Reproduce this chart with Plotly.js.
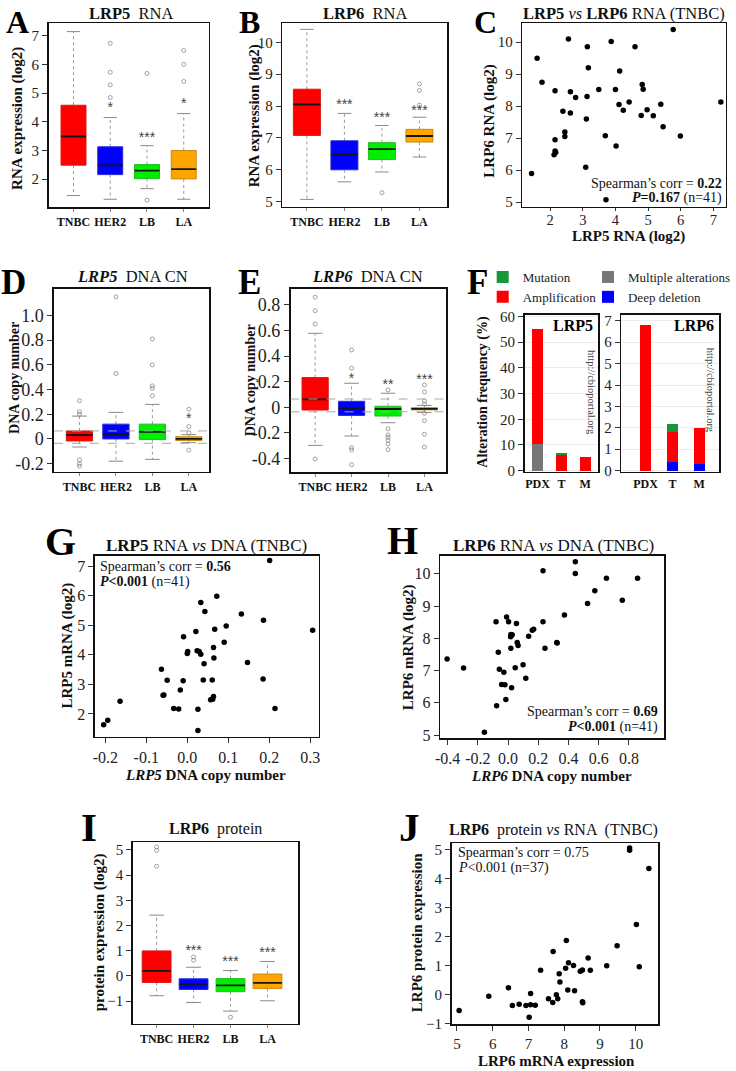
<!DOCTYPE html>
<html><head><meta charset="utf-8">
<script src="https://cdn.plot.ly/plotly-3.0.1.min.js"></script>
<style>html,body{margin:0;padding:0;background:#fff}#chart{width:736px;height:1071px}</style>
</head><body><div id="chart"></div>
<script>
// ---------------- DATA ----------------
const subtypes = ['TNBC', 'HER2', 'LB', 'LA'];

// A: LRP5 RNA (log2) box statistics by subtype
const lrp5RnaQ1  = [2.49, 2.16, 2.02, 2.01];
const lrp5RnaMed = [3.49, 2.48, 2.30, 2.35];
const lrp5RnaQ3  = [4.58, 3.13, 2.51, 3.00];
const lrp5RnaLo  = [1.43, 1.30, 1.67, 1.30];
const lrp5RnaHi  = [7.15, 4.15, 3.17, 4.29];
const lrp5RnaOut = [[], [6.74, 5.73, 5.29, 4.85], [5.69, 1.27], [6.49, 6.01, 5.41]];
const lrp5RnaSig  = ['', '*', '***', '*'];
const lrp5RnaSigY = [null, 4.45, 3.42, 4.6];

// B: LRP6 RNA (log2)
const lrp6RnaQ1  = [7.08, 6.00, 6.32, 6.87];
const lrp6RnaMed = [8.05, 6.48, 6.65, 7.06];
const lrp6RnaQ3  = [8.53, 6.91, 6.85, 7.27];
const lrp6RnaLo  = [5.07, 5.62, 5.93, 6.40];
const lrp6RnaHi  = [10.41, 7.77, 7.39, 7.65];
const lrp6RnaOut = [[], [], [5.28], [8.70, 8.49, 8.03]];
const lrp6RnaSig  = ['', '***', '***', '***'];
const lrp6RnaSigY = [null, 8.02, 7.62, 7.82];

// C: LRP5 vs LRP6 RNA in TNBC
const cLrp5 = [1.43,1.60,1.75,2.15,2.56,2.15,2.15,2.12,2.17,2.39,2.45,2.45,2.62,2.62,2.78,3.14,3.17,3.13,3.11,3.09,3.49,3.69,3.71,3.87,4.00,4.02,4.13,4.11,4.24,4.42,4.60,4.79,4.82,4.85,4.97,5.16,5.39,5.46,5.77,5.99,7.23];
const cLrp6 = [5.90,9.50,8.75,8.48,10.10,6.95,6.60,6.48,6.55,7.84,7.19,7.05,8.45,7.79,8.27,9.86,9.20,8.30,7.60,6.09,8.52,7.08,5.08,10.02,8.52,6.76,9.10,8.05,7.87,8.13,9.86,7.71,8.68,8.53,7.89,7.70,8.06,7.36,10.40,7.07,8.13];

// D: LRP5 DNA copy number
const lrp5CnQ1  = [-0.016, 0.000, -0.005, -0.012];
const lrp5CnMed = [0.032, 0.040, 0.057, 0.000];
const lrp5CnQ3  = [0.065, 0.120, 0.120, 0.018];
const lrp5CnLo  = [-0.065, -0.180, -0.165, -0.030];
const lrp5CnHi  = [0.185, 0.215, 0.280, 0.035];
const lrp5CnOut = [[0.31, 0.22, 0.20, -0.17, -0.20, -0.22], [1.15, 0.53], [0.81, 0.60, 0.43, 0.41, 0.35], [0.24, 0.10, 0.05, -0.09]];
const lrp5CnSig  = ['', '', '', '*'];
const lrp5CnSigY = [null, null, null, 0.16];

// E: LRP6 DNA copy number
const lrp6CnQ1  = [-0.021, -0.063, -0.068, -0.020];
const lrp6CnMed = [0.062, -0.008, -0.013, -0.012];
const lrp6CnQ3  = [0.232, 0.047, 0.008, -0.003];
const lrp6CnLo  = [-0.297, -0.224, -0.120, -0.040];
const lrp6CnHi  = [0.578, 0.188, 0.110, 0.015];
const lrp6CnOut = [[0.86, 0.755, 0.65, -0.404], [0.448, 0.305, -0.315, -0.333, -0.448], [0.135, -0.167, -0.216, -0.234, -0.258, -0.286, -0.33], [0.175, 0.12, 0.05, 0.026, -0.047, -0.104, -0.21, -0.31]];
const lrp6CnSig  = ['', '*', '**', '***'];
const lrp6CnSigY = [null, 0.22, 0.17, 0.21];

const cnThresh = [0.065, -0.035];

// F: alteration frequency (%)
const altSets = ['PDX', 'T', 'M'];
const lrp5Mult = [10.3, 0, 0];
const lrp5Del  = [0, 0, 0];
const lrp5Amp  = [44.7, 6.1, 5.4];
const lrp5Mut  = [0, 0.6, 0];
const lrp6Mult = [0, 0, 0];
const lrp6Del  = [0, 0.4, 0.3];
const lrp6Amp  = [6.8, 1.4, 1.7];
const lrp6Mut  = [0, 0.4, 0];

// G: LRP5 RNA vs DNA (TNBC)
const gCn   = [-0.204,-0.194,-0.164,-0.063,-0.057,-0.049,-0.033,-0.021,-0.017,-0.010,-0.009,0.001,0.000,0.021,0.026,0.026,0.029,0.033,0.033,0.039,0.041,0.043,0.057,0.061,0.062,0.064,0.065,0.064,0.067,0.072,0.090,0.095,0.132,0.147,0.185,0.186,0.214,0.306,0.201,-0.059,0.024];
const gRna  = [1.63,1.79,2.43,3.51,2.64,3.14,2.18,2.17,2.81,3.12,4.61,4.11,4.04,4.79,2.16,1.44,4.11,4.02,5.77,3.15,3.70,5.46,2.48,3.15,2.50,2.59,3.89,4.25,4.86,5.98,4.42,4.97,5.38,3.74,3.18,5.17,2.18,4.83,7.19,2.63,4.14];

// H: LRP6 RNA vs DNA (TNBC)
const hCn  = [-0.404,-0.295,-0.157,-0.080,-0.076,-0.065,-0.058,-0.043,-0.028,-0.021,-0.015,-0.010,0.003,0.016,0.018,0.027,0.018,0.023,0.047,0.055,0.060,0.066,0.099,0.117,0.136,0.160,0.169,0.231,0.244,0.325,0.373,0.526,0.574,0.756,0.231,0.445,0.445,0.651,0.857,0.322,0.020];
const hRna = [7.36,7.08,5.09,8.51,5.91,7.57,7.04,6.57,6.95,6.56,6.10,8.66,8.51,8.05,8.12,8.11,7.69,6.47,7.09,8.46,7.87,7.78,7.18,6.76,8.06,8.25,8.28,8.51,7.69,7.85,8.72,9.08,9.47,9.18,10.09,10.37,10.01,9.86,9.86,7.87,8.08];

// I: LRP6 protein (log2)
const lrp6ProtQ1  = [-0.26, -0.54, -0.63, -0.50];
const lrp6ProtMed = [0.20, -0.33, -0.38, -0.28];
const lrp6ProtQ3  = [0.99, -0.12, -0.11, 0.07];
const lrp6ProtLo  = [-0.79, -1.06, -1.40, -0.99];
const lrp6ProtHi  = [2.41, 0.34, 0.21, 0.57];
const lrp6ProtOut = [[5.12, 4.98, 4.35], [0.75, 0.62], [-1.64], []];
const lrp6ProtSig  = ['', '***', '***', '***'];
const lrp6ProtSigY = [null, 0.98, 0.52, 0.87];

// J: LRP6 protein vs RNA (TNBC)
const jRna  = [5.06,5.89,6.44,6.55,6.74,6.93,7.02,7.06,7.06,7.19,7.34,7.56,7.68,7.69,7.78,7.82,7.86,7.88,8.04,8.06,8.10,8.12,8.26,8.29,8.45,8.51,8.51,8.52,8.67,8.73,9.19,9.48,10.02,10.10,10.37,9.83,9.83];
const jProt = [-0.55,-0.06,0.23,-0.38,-0.34,-0.38,-0.79,0.03,-0.36,-0.37,0.83,-0.15,-0.28,1.48,-0.01,-0.15,0.71,0.43,0.90,1.86,0.15,1.09,1.00,0.13,0.80,0.84,-0.25,-0.29,1.26,0.83,0.99,1.68,2.41,0.95,4.34,5.05,4.97];

// ---------------- HELPERS ----------------
const FONT = "'Liberation Serif', 'Times New Roman', serif";
const W = 736, H = 1071;
const fx = p => p / W;
const fy = p => 1 - p / H;
const xdom = (a, b) => [a / W, b / W];
const ydom = (t, b) => [1 - b / H, 1 - t / H];

const boxFill = ['#ff0000', '#0000ff', '#00ee00', '#ffa500'];
const boxEdge = ['#d81818', '#2a2ad0', '#22bb22', '#c98a10'];

const traces = [];
const shapes = [];
const annotations = [];

function ax(domain, range, anchor, o) {
  return Object.assign({
    domain: domain, range: range, anchor: anchor, showline: true, mirror: true,
    linecolor: '#111', linewidth: 1.6, ticks: 'outside', ticklen: 5, tickwidth: 1,
    tickcolor: '#333', showgrid: false, zeroline: false, fixedrange: true,
    tickfont: {family: FONT, size: 15, color: '#222'}
  }, o || {});
}
function catAxis(domain, range, anchor, size) {
  return ax(domain, range, anchor, {
    tickvals: subtypes.map((s, i) => i), ticktext: subtypes, ticklen: 3, tickcolor: '#888',
    tickfont: {family: FONT, size: size || 12, color: '#111', weight: 'bold'}
  });
}

function boxPanel(xa, ya, q1, med, q3, lo, hi, out, sig, sigY, hw, cw) {
  const base = {type: 'scatter', xaxis: xa, yaxis: ya, hoverinfo: 'skip', showlegend: false};
  const wx = [], wy = [], cx = [], cy = [], mx = [], my = [], ox = [], oy = [];
  subtypes.forEach((s, i) => {
    wx.push(i, i, null, i, i, null); wy.push(q3[i], hi[i], null, q1[i], lo[i], null);
    cx.push(i - cw, i + cw, null, i - cw, i + cw, null); cy.push(hi[i], hi[i], null, lo[i], lo[i], null);
    mx.push(i - hw, i + hw, null); my.push(med[i], med[i], null);
    out[i].forEach(v => { ox.push(i); oy.push(v); });
  });
  traces.push(Object.assign({}, base, {mode: 'lines', x: wx, y: wy, line: {color: '#9a9a9a', width: 1, dash: 'dot'}}));
  traces.push(Object.assign({}, base, {mode: 'lines', x: cx, y: cy, line: {color: '#8a8a8a', width: 1}}));
  subtypes.forEach((s, i) => {
    traces.push(Object.assign({}, base, {
      mode: 'lines', x: [i - hw, i + hw, i + hw, i - hw, i - hw], y: [q1[i], q1[i], q3[i], q3[i], q1[i]],
      fill: 'toself', fillcolor: boxFill[i], line: {color: boxEdge[i], width: 1}
    }));
  });
  traces.push(Object.assign({}, base, {mode: 'lines', x: mx, y: my, line: {color: '#151515', width: 1.8}}));
  traces.push(Object.assign({}, base, {mode: 'markers', x: ox, y: oy,
    marker: {symbol: 'circle-open', size: 4, color: '#8a8a8a', line: {width: 0.8}}}));
  const sx = [], sy = [], st = [];
  sig.forEach((t, i) => { if (t) { sx.push(i); sy.push(sigY[i]); st.push(t); } });
  traces.push(Object.assign({}, base, {mode: 'text', x: sx, y: sy, text: st, textposition: 'middle center',
    textfont: {family: 'Liberation Sans, Arial, sans-serif', size: 14, color: '#444'}}));
}

function scatterPanel(xa, ya, xs, ys) {
  traces.push({type: 'scatter', mode: 'markers', xaxis: xa, yaxis: ya, x: xs, y: ys,
    marker: {color: '#000', size: 5.5}, hoverinfo: 'skip', showlegend: false});
}

function barSet(xa, ya, mult, del, amp, mut, width, showLeg) {
  const xs = altSets.map((s, i) => i);
  const defs = [
    ['Multiple alterations', mult, '#777777', 'legend2', 1],
    ['Deep deletion', del, '#0000ff', 'legend2', 2],
    ['Amplification', amp, '#ff0000', 'legend', 2],
    ['Mutation', mut, '#17963a', 'legend', 1]
  ];
  defs.forEach(d => traces.push({type: 'bar', xaxis: xa, yaxis: ya, x: xs, y: d[1], name: d[0],
    marker: {color: d[2], line: {width: 0}}, width: width, legend: d[3], legendrank: d[4],
    showlegend: showLeg, hoverinfo: 'skip'}));
}

function note(text, x, y, o) {
  return Object.assign({text: text, x: fx(x), y: fy(y), xref: 'paper', yref: 'paper', showarrow: false,
    xanchor: 'center', yanchor: 'middle', font: {family: FONT, size: 15, color: '#111'}}, o || {});
}
function letter(t, x, y, size) {
  annotations.push(note('<b>' + t + '</b>', x, y, {font: {family: FONT, size: size, color: '#000'}}));
}
function ylab(t, x, y, size) {
  annotations.push(note(t, x, y, {textangle: -90, font: {family: FONT, size: size || 15, color: '#111'}}));
}

// ---------------- PANELS ----------------
boxPanel('x', 'y', lrp5RnaQ1, lrp5RnaMed, lrp5RnaQ3, lrp5RnaLo, lrp5RnaHi, lrp5RnaOut, lrp5RnaSig, lrp5RnaSigY, 0.34, 0.18);
boxPanel('x2', 'y2', lrp6RnaQ1, lrp6RnaMed, lrp6RnaQ3, lrp6RnaLo, lrp6RnaHi, lrp6RnaOut, lrp6RnaSig, lrp6RnaSigY, 0.36, 0.18);
scatterPanel('x3', 'y3', cLrp5, cLrp6);
boxPanel('x4', 'y4', lrp5CnQ1, lrp5CnMed, lrp5CnQ3, lrp5CnLo, lrp5CnHi, lrp5CnOut, lrp5CnSig, lrp5CnSigY, 0.36, 0.2);
boxPanel('x5', 'y5', lrp6CnQ1, lrp6CnMed, lrp6CnQ3, lrp6CnLo, lrp6CnHi, lrp6CnOut, lrp6CnSig, lrp6CnSigY, 0.36, 0.2);
barSet('x6', 'y6', lrp5Mult, lrp5Del, lrp5Amp, lrp5Mut, 0.44, true);
barSet('x7', 'y7', lrp6Mult, lrp6Del, lrp6Amp, lrp6Mut, 0.40, false);
scatterPanel('x8', 'y8', gCn, gRna);
scatterPanel('x9', 'y9', hCn, hRna);
boxPanel('x10', 'y10', lrp6ProtQ1, lrp6ProtMed, lrp6ProtQ3, lrp6ProtLo, lrp6ProtHi, lrp6ProtOut, lrp6ProtSig, lrp6ProtSigY, 0.39, 0.2);
scatterPanel('x11', 'y11', jRna, jProt);

['x4', 'x5'].forEach((xa, k) => {
  const ya = k === 0 ? 'y4' : 'y5';
  cnThresh.forEach(v => shapes.push({type: 'line', xref: xa + ' domain', yref: ya, x0: 0, x1: 1, y0: v, y1: v,
    line: {color: '#a8a8a8', width: 1, dash: 'dash'}, layer: 'above'}));
});

const intTicks = (a, b) => { const r = []; for (let v = a; v <= b; v++) r.push(v); return r; };

const layout = {
  width: W, height: H, margin: {l: 0, r: 0, t: 0, b: 0}, paper_bgcolor: '#fff', plot_bgcolor: '#fff',
  barmode: 'stack', font: {family: FONT, color: '#111'}, showlegend: true,
  // A
  xaxis: catAxis(xdom(49, 210), [-0.676, 3.676], 'y'),
  yaxis: ax(ydom(23.3, 207), [1.03, 7.44], 'x', {tickvals: intTicks(2, 7)}),
  // B
  xaxis2: catAxis(xdom(284.3, 450), [-0.654, 3.733], 'y2'),
  yaxis2: ax(ydom(23.3, 206.7), [4.84, 10.6], 'x2', {tickvals: intTicks(5, 10)}),
  // C
  xaxis3: ax(xdom(526, 730.7), [1.15, 7.38], 'y3', {tickvals: intTicks(2, 7), ticklen: 3, ticklabelstandoff: -4,
    tickfont: {family: FONT, size: 14.5, color: '#222'}}),
  yaxis3: ax(ydom(23.3, 206.7), [4.86, 10.59], 'x3', {tickvals: intTicks(5, 10)}),
  // D
  xaxis4: catAxis(xdom(54.3, 210.7), [-0.70, 3.56], 'y4'),
  yaxis4: ax(ydom(289, 471.7), [-0.265, 1.214], 'x4', {tickvals: [-0.2, 0, 0.2, 0.4, 0.6, 0.8, 1.0],
    ticktext: ['-0.2', '0', '0.2', '0.4', '0.6', '0.8', '1.0'], tickfont: {family: FONT, size: 18, color: '#222'}}),
  // E
  xaxis5: catAxis(xdom(292.5, 449), [-0.676, 3.59], 'y5'),
  yaxis5: ax(ydom(289, 472), [-0.505, 0.924], 'x5', {tickvals: [-0.4, -0.2, 0, 0.2, 0.4, 0.6, 0.8],
    ticktext: ['-0.4', '-0.2', '0', '0.2', '0.4', '0.6', '0.8'], tickfont: {family: FONT, size: 18, color: '#222'}}),
  // F left
  xaxis6: ax(xdom(528.3, 602), [-0.54, 2.53], 'y6', {tickvals: [0, 1, 2], ticktext: altSets, ticks: '',
    tickfont: {family: FONT, size: 12, color: '#111', weight: 'bold'}}),
  yaxis6: ax(ydom(315, 471.7), [-0.4, 60.6], 'x6', {tickvals: [0, 10, 20, 30, 40, 50, 60], showgrid: true,
    gridcolor: '#ececec', tickfont: {family: FONT, size: 15, color: '#222'}}),
  // F right
  xaxis7: ax(xdom(625.7, 724), [-0.9, 2.74], 'y7', {tickvals: [0, 1, 2], ticktext: altSets, ticks: '',
    tickfont: {family: FONT, size: 12, color: '#111', weight: 'bold'}}),
  yaxis7: ax(ydom(315, 471.7), [-0.05, 7.27], 'x7', {tickvals: intTicks(0, 7), showgrid: true,
    gridcolor: '#ececec', tickfont: {family: FONT, size: 15, color: '#222'}}),
  // G
  xaxis8: ax(xdom(95.7, 321), [-0.225, 0.321], 'y8', {tickvals: [-0.2, -0.1, 0, 0.1, 0.2, 0.3],
    ticktext: ['-0.2', '-0.1', '0.0', '0.1', '0.2', '0.3'], tickfont: {family: FONT, size: 16, color: '#222'}}),
  yaxis8: ax(ydom(556, 736.7), [1.23, 7.34], 'x8', {tickvals: intTicks(2, 7), tickfont: {family: FONT, size: 16, color: '#222'}}),
  // H
  xaxis9: ax(xdom(443.3, 669), [-0.449, 1.035], 'y9', {tickvals: [-0.4, -0.2, 0, 0.2, 0.4, 0.6, 0.8],
    ticktext: ['-0.4', '-0.2', '0.0', '0.2', '0.4', '0.6', '0.8'], tickfont: {family: FONT, size: 16, color: '#222'}}),
  yaxis9: ax(ydom(556, 738.3), [4.9, 10.55], 'x9', {tickvals: intTicks(5, 10), tickfont: {family: FONT, size: 16, color: '#222'}}),
  // I
  xaxis10: catAxis(xdom(133.7, 300), [-0.645, 3.825], 'y10', 12),
  yaxis10: ax(ydom(842.3, 1023.7), [-1.9, 5.3], 'x10', {tickvals: intTicks(-1, 5), tickfont: {family: FONT, size: 15, color: '#222'}}),
  // J
  xaxis11: ax(xdom(454.7, 662.7), [4.85, 10.63], 'y11', {tickvals: intTicks(5, 10), tickfont: {family: FONT, size: 15, color: '#222'}}),
  yaxis11: ax(ydom(843.3, 1024.3), [-1.03, 5.21], 'x11', {tickvals: intTicks(-1, 5), tickfont: {family: FONT, size: 15, color: '#222'}}),
  legend: {x: fx(486), y: fy(262), xanchor: 'left', yanchor: 'top', orientation: 'v', traceorder: 'normal',
    font: {family: FONT, size: 13, color: '#222'}, bgcolor: 'rgba(0,0,0,0)', borderwidth: 0, tracegroupgap: 0},
  legend2: {x: fx(592), y: fy(262), xanchor: 'left', yanchor: 'top', orientation: 'v', traceorder: 'normal',
    font: {family: FONT, size: 13, color: '#222'}, bgcolor: 'rgba(0,0,0,0)', borderwidth: 0, tracegroupgap: 0},
  shapes: shapes,
  annotations: annotations
};

// panel letters
letter('A', 18, 22, 32); letter('B', 251, 22, 32); letter('C', 489, 22, 32);
letter('D', 14, 283, 35); letter('E', 251, 283, 35); letter('F', 481, 283, 35);
letter('G', 61, 541, 40); letter('H', 405, 540, 40);
letter('I', 90, 827, 41); letter('J', 412, 827, 41);

// titles
annotations.push(note('<b>LRP5</b>  RNA', 132, 14, {font: {family: FONT, size: 16.5, color: '#111'}}));
annotations.push(note('<b>LRP6</b>  RNA', 367, 14, {font: {family: FONT, size: 16.5, color: '#111'}}));
annotations.push(note('<b>LRP5</b> <i>vs</i> <b>LRP6</b> RNA (TNBC)', 628, 14, {font: {family: FONT, size: 16.5, color: '#111'}}));
annotations.push(note('<b><i>LRP5</i></b>  DNA CN', 133, 277, {font: {family: FONT, size: 16.5, color: '#111'}}));
annotations.push(note('<b><i>LRP6</i></b>  DNA CN', 370, 277, {font: {family: FONT, size: 16.5, color: '#111'}}));
annotations.push(note('<b>LRP5</b> RNA <i>vs</i> DNA (TNBC)', 208, 545, {font: {family: FONT, size: 17, color: '#111'}}));
annotations.push(note('<b>LRP6</b> RNA <i>vs</i> DNA (TNBC)', 557, 545, {font: {family: FONT, size: 17, color: '#111'}}));
annotations.push(note('<b>LRP6</b>  protein', 217, 829, {font: {family: FONT, size: 16, color: '#111'}}));
annotations.push(note('<b>LRP6</b>  protein <i>vs</i> RNA  (TNBC)', 557, 830, {font: {family: FONT, size: 16, color: '#111'}}));

// axis labels
ylab('<b>RNA expression (log2)</b>', 17, 118);
ylab('<b>RNA expression (log2)</b>', 256, 116);
ylab('<b>LRP6 RNA (log2)</b>', 492, 121);
annotations.push(note('<b>LRP5 RNA (log2)</b>', 633, 236));
ylab('<b>DNA copy number</b>', 14, 378, 14);
ylab('<b>DNA copy number</b>', 252, 380, 14);
ylab('<b>Alteration frequency (%)</b>', 486, 392, 14);
ylab('<b>LRP5 mRNA (log2)</b>', 67, 646);
annotations.push(note('<b><i>LRP5</i> DNA copy number</b>', 207, 775));
ylab('<b>LRP6 mRNA (log2)</b>', 411, 647);
annotations.push(note('<b><i>LRP6</i> DNA copy number</b>', 555, 776));
ylab('<b>protein expression (log2)</b>', 100, 932);
ylab('<b>LRP6 protein expression</b>', 420, 933);
annotations.push(note('<b>LRP6 mRNA expression</b>', 560, 1061));

// statistics text
const statFont = {family: FONT, size: 14, color: '#111'};
annotations.push(note('Spearman’s corr = <b>0.22</b>', 729, 183, {xanchor: 'right', font: statFont}));
annotations.push(note('<b><i>P</i>=0.167</b> (n=41)', 729, 198, {xanchor: 'right', font: statFont}));
annotations.push(note('Spearman’s corr = <b>0.56</b>', 99, 566, {xanchor: 'left', font: statFont}));
annotations.push(note('<b><i>P</i>&lt;0.001</b> (n=41)', 99, 582, {xanchor: 'left', font: statFont}));
annotations.push(note('Spearman’s corr = <b>0.69</b>', 665, 711, {xanchor: 'right', font: statFont}));
annotations.push(note('<b><i>P</i>&lt;0.001</b> (n=41)', 665, 727, {xanchor: 'right', font: statFont}));
annotations.push(note('Spearman’s corr = 0.75', 459, 852, {xanchor: 'left', font: statFont}));
annotations.push(note('<i>P</i>&lt;0.001 (n=37)', 459, 868, {xanchor: 'left', font: statFont}));

// F panel labels
annotations.push(note('<b>LRP5</b>', 599, 325, {xanchor: 'right', font: {family: FONT, size: 16, color: '#000'}}));
annotations.push(note('<b>LRP6</b>', 721, 325, {xanchor: 'right', font: {family: FONT, size: 16, color: '#000'}}));
annotations.push(note('http://cbioportal.org', 596, 393, {textangle: 90, font: {family: FONT, size: 10.5, color: '#444'}}));
annotations.push(note('http://cbioportal.org', 716, 390, {textangle: 90, font: {family: FONT, size: 10.5, color: '#444'}}));

Plotly.newPlot('chart', traces, layout, {staticPlot: true, displayModeBar: false});
</script></body></html>
